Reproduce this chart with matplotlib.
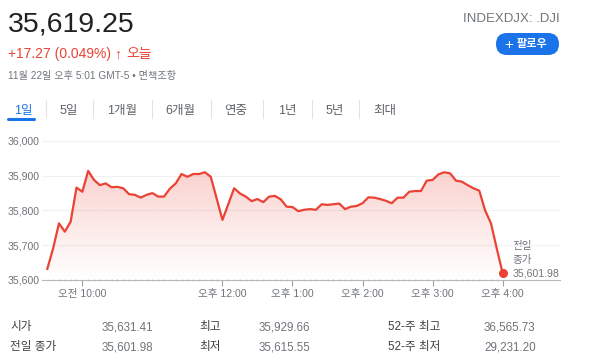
import numpy as np
import matplotlib
matplotlib.use("Agg")
import matplotlib.pyplot as plt
from matplotlib.patches import FancyBboxPatch
from matplotlib.ticker import FixedLocator, FuncFormatter

plt.rcParams['font.family'] = ['Liberation Sans', 'Noto Sans CJK KR', 'DejaVu Sans']

# DJI intraday, 5-minute steps from 9:30 to 16:00
prices = [
    35632, 35691, 35763, 35739, 35768, 35866, 35854, 35914, 35888, 35873,
    35878, 35867, 35868, 35864, 35847, 35845, 35837, 35845, 35850, 35840,
    35840, 35863, 35878, 35905, 35897, 35905, 35905, 35910, 35897, 35835,
    35773, 35818, 35864, 35849, 35840, 35827, 35833, 35824, 35840, 35842,
    35832, 35811, 35810, 35798, 35802, 35804, 35802, 35818, 35816, 35818,
    35820, 35804, 35811, 35813, 35821, 35838, 35837, 35833, 35828, 35821,
    35837, 35837, 35854, 35856, 35856, 35886, 35888, 35904, 35910, 35907,
    35886, 35883, 35873, 35864, 35857, 35800, 35763, 35690, 35619.25]
hours = 9.5 + np.arange(len(prices)) * 5 / 60

y_ticks = [35600, 35700, 35800, 35900, 36000]
x_ticks = [10, 12, 13, 14, 15, 16]
x_labels = ['오전 10:00', '오후 12:00', '오후 1:00', '오후 2:00', '오후 3:00', '오후 4:00']

price_now = '35,619.25'
change_text = '+17.27 (0.049%)'
date_text = '11월 22일 오후 5:01 GMT-5 • 면책조항'
tabs = ['1일', '5일', '1개월', '6개월', '연중', '1년', '5년', '최대']
tab_x = [23, 69, 122, 180, 236, 287, 335, 385]
sep_x = [45.7, 92.7, 151.7, 210.7, 263, 311.7, 359.3]
prev_close = '35,601.98'

table_labels = [['시가', '최고', '52-주 최고'], ['전일 종가', '최저', '52-주 최저']]
table_values = [['35,631.41', '35,929.66', '36,565.73'], ['35,601.98', '35,615.55', '29,231.20']]

red = '#ea4335'
W, H = 600, 364
fig = plt.figure(figsize=(6, 3.64), dpi=100)

# overlay in pixel coordinates for header and table
bg = fig.add_axes([0, 0, 1, 1])
bg.set_xlim(0, W)
bg.set_ylim(H, 0)
bg.axis('off')

bg.text(8, 31.7, price_now, fontsize=20.5, color='#202124', va='baseline')
bg.text(8, 58.3, change_text, fontsize=10, color=red, va='baseline')
bg.text(114, 58.3, '↑', fontsize=10, color=red, va='baseline', fontweight='bold')
bg.text(126, 58.3, '오늘', fontsize=10, color=red, va='baseline')
bg.text(8, 79, date_text, fontsize=7.3, color='#70757a', va='baseline')
bg.text(560, 21.7, 'INDEXDJX: .DJI', fontsize=9.5, color='#70757a', va='baseline', ha='right')

btn = FancyBboxPatch((496, 33), 63, 22, boxstyle='round,pad=0,rounding_size=11',
                     fc='#1a73e8', ec='none')
bg.add_patch(btn)
bg.text(509, 44.5, '+', fontsize=11, color='white', ha='center', va='center')
bg.text(532, 44, '팔로우', fontsize=8, color='white', ha='center', va='center',
        fontweight='bold')

for i, (t, x) in enumerate(zip(tabs, tab_x)):
    bg.text(x, 114, t, fontsize=9, ha='center', va='baseline',
            color='#1a73e8' if i == 0 else '#5f6368')
for x in sep_x:
    bg.plot([x, x], [100, 118], color='#e3e3e3', lw=0.8)
bg.plot([8, 34], [118.5, 118.5], color='#1a73e8', lw=2.2, solid_capstyle='round')

col_lab = [10, 199, 388]
col_val = [102, 259, 484]
for r, base in enumerate([330, 350]):
    for c in range(3):
        bg.text(col_lab[c], base, table_labels[r][c], fontsize=8.4, color='#3c4043', va='baseline')
        bg.text(col_val[c], base, table_values[r][c], fontsize=8.4, color='#70757a', va='baseline')

# chart
ax = fig.add_axes([42 / W, 1 - 280 / H, (560 - 42) / W, (280 - 141) / H])
ax.patch.set_alpha(0)
ax.set_xlim(9.5 - 5.3 / 70, 16 + 57.3 / 70)
ax.set_ylim(35600, 36000)

ax.plot(hours, prices, color=red, lw=1.6, zorder=3, solid_joinstyle='round')
ax.plot(hours[-1], prices[-1], 'o', color=red, ms=5.5, zorder=4)

poly = ax.fill_between(hours, prices, 35600, color='none', lw=0)
grad = np.zeros((256, 1, 4))
grad[:, 0, 0:3] = matplotlib.colors.to_rgb(red)
grad[:, 0, 3] = np.linspace(0.24, 0.0, 256)
img = ax.imshow(grad, extent=[hours[0], hours[-1], 35600, max(prices)],
                aspect='auto', origin='upper', zorder=2)
img.set_clip_path(poly.get_paths()[0], transform=ax.transData)

ax.set_yticks(y_ticks)
ax.yaxis.set_major_formatter(FuncFormatter(lambda v, p: f'{v:,.0f}'))
ax.set_xticks(x_ticks)
ax.set_xticklabels(x_labels)
ax.xaxis.set_minor_locator(FixedLocator(hours[1:]))
ax.grid(axis='y', color='#f1f1f1', lw=0.8)
ax.set_axisbelow(True)

for s in ['top', 'right', 'left']:
    ax.spines[s].set_visible(False)
ax.spines['bottom'].set_color('#b8b8b8')
ax.spines['bottom'].set_linewidth(0.8)

ax.tick_params(axis='y', length=0, pad=1.5, labelsize=7.6, labelcolor='#70757a')
ax.tick_params(axis='x', which='major', length=4, width=0.8, color='#9e9e9e',
               pad=2.5, labelsize=7.6, labelcolor='#70757a')
ax.tick_params(axis='x', which='minor', length=1.5, width=0.7, color='#c4c4c4',
               direction='inout')

bg.text(512.5, 249.5, '전일', fontsize=7.6, color='#70757a', va='baseline')
bg.text(512.5, 263.5, '종가', fontsize=7.6, color='#70757a', va='baseline')
bg.text(512.5, 276.7, prev_close, fontsize=7.6, color='#70757a', va='baseline')

fig.savefig('out.png', dpi=100)
